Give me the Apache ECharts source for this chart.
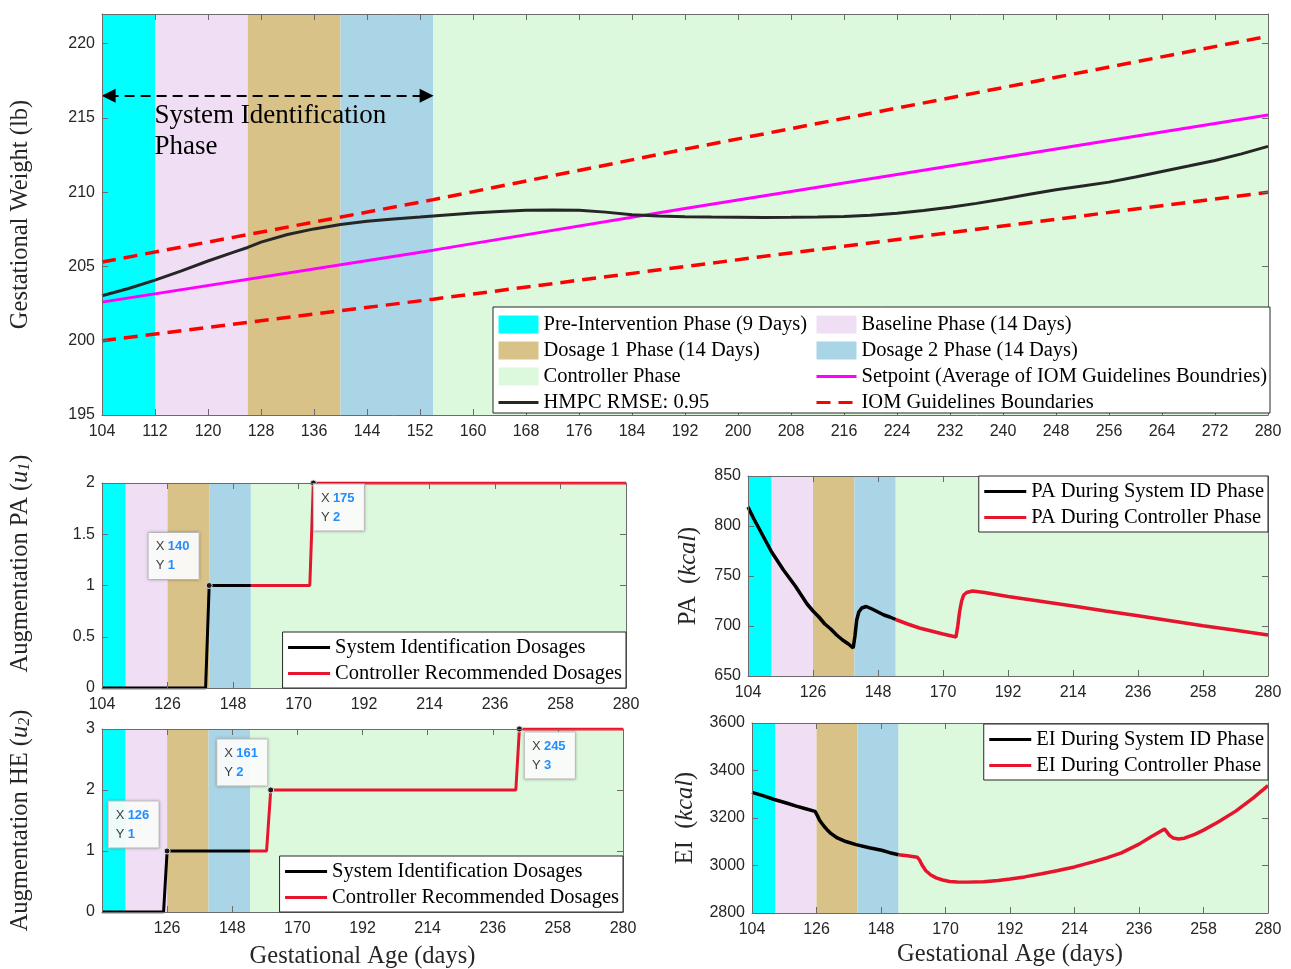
<!DOCTYPE html>
<html lang="en">
<head>
<meta charset="UTF-8" />
<title>Gestational weight control</title>
<script src="https://cdn.jsdelivr.net/npm/echarts@6/dist/echarts.min.js"></script>
<style>
  html, body { margin: 0; padding: 0; background: #fff; }
  #chart { width: 1291px; height: 969px; }
</style>
</head>
<body>
<div id="chart"></div>
<script>
// phases (days)
const phaseNames = [
  "Pre-Intervention Phase (9 Days)",
  "Baseline Phase (14 Days)",
  "Dosage 1 Phase (14 Days)",
  "Dosage 2 Phase (14 Days)",
  "Controller Phase"
];
const phaseStart = [104, 112, 126, 140, 154];
const phaseEnd = [112, 126, 140, 154, 280];
const phaseColors = ["#00ffff", "#f0dff4", "#d9c288", "#a9d5e6", "#ddf9dd"];

// gestational weight (lb)
const hmpcWeight = [
  [104, 203.03], [108, 203.52], [112, 204.08], [116, 204.7], [120, 205.37], [124, 205.98],
  [126, 206.28], [128, 206.64], [132, 207.15], [136, 207.53], [140, 207.82], [144, 208.04],
  [148, 208.2], [152, 208.33], [156, 208.47], [160, 208.6], [164, 208.71], [168, 208.78],
  [172, 208.8], [176, 208.78], [180, 208.66], [184, 208.49], [188, 208.4], [192, 208.35],
  [196, 208.33], [200, 208.32], [204, 208.3], [208, 208.31], [212, 208.33], [216, 208.36],
  [220, 208.45], [224, 208.58], [228, 208.77], [232, 208.99], [236, 209.25], [240, 209.55],
  [244, 209.86], [248, 210.16], [252, 210.42], [256, 210.68], [260, 211.02], [264, 211.4],
  [268, 211.76], [272, 212.14], [276, 212.58], [280, 213.09]
];
const setpoint = [[104, 202.6], [154, 206.1], [192, 208.9], [280, 215.2]];
const iomUpper = [[104, 205.3], [154, 209.5], [192, 212.9], [280, 220.5]];
const iomLower = [[104, 200.0], [154, 202.8], [192, 205.0], [280, 210.0]];
const sysIdSpan = [105, 153];
const sysIdArrowY = 216.5;

// augmentation dosages
const paDoseId = [[104, 0], [138.8, 0], [140, 1], [154, 1]];
const paDoseCtrl = [[154, 1], [173.8, 1], [175, 2], [280, 2]];
const heDoseId = [[104, 0], [124.8, 0], [126, 1], [154, 1]];
const heDoseCtrl = [[154, 1], [159.6, 1], [161, 2], [243.8, 2], [245, 3], [280, 3]];
const paTips = [[140, 1], [175, 2]];
const heTips = [[126, 1], [161, 2], [245, 3]];

// PA and EI (kcal)
const paKcalId = [
  [104, 819], [106, 807], [108, 796], [110, 785], [112, 774], [114, 765], [116, 756],
  [118, 748], [120, 740], [122, 731], [124, 722], [126, 715], [128, 709], [130, 702],
  [132, 697], [134, 691], [136, 686], [138, 682], [139.6, 678], [140.2, 690], [140.8, 706],
  [141.5, 714], [142.5, 718], [144, 719.5], [146, 717], [148, 714], [150, 711], [152, 709],
  [154, 706.5]
];
const paKcalCtrl = [
  [154, 706.5], [158, 702], [162, 698], [166, 695], [170, 692], [174.4, 689], [175, 700],
  [175.6, 714], [176.3, 725], [177, 731], [178, 733.5], [180, 735], [184, 733.5],
  [192, 729.5], [203, 724.8], [214, 720], [225, 715], [236, 710.3], [247, 705.3],
  [258, 700.3], [269, 695.7], [280, 691]
];
const eiId = [
  [104, 3308], [108, 3293], [111.6, 3278], [116, 3262], [119.1, 3250], [122, 3240],
  [125.5, 3228], [126.3, 3210], [127, 3192], [127.8, 3178], [128.7, 3163], [129.6, 3151],
  [131, 3134], [133.1, 3116], [136, 3101], [139.5, 3088], [144, 3075], [148.2, 3064],
  [151, 3054], [154, 3045]
];
const eiCtrl = [
  [154, 3045], [157, 3041], [160.4, 3035], [161.2, 3022], [162, 3002], [163.3, 2978],
  [165, 2960], [166.8, 2948], [169, 2939], [171.4, 2933], [174, 2931], [177.3, 2930],
  [183, 2932], [188, 2937], [192, 2943], [197, 2952], [202.8, 2965], [208, 2978],
  [214, 2994], [220, 3014], [225, 3032], [230, 3053], [236, 3090], [240, 3120],
  [244.7, 3154], [246.4, 3127], [247.6, 3116], [249.5, 3112], [251.5, 3115], [255, 3131],
  [258, 3149], [263, 3183], [269, 3229], [275, 3285], [280, 3336]
];

const SERIF = "Liberation Serif";
const SANS = "Liberation Sans";
const INK = "#262626";
const BOX = "#6b6b6b";
const RED = "#e6142d";
const TITLE_SIZE = 24.5;
const LEGEND_SIZE = 20.5;

const chart = echarts.init(document.getElementById("chart"));

// value axis + its mirror (MATLAB box with ticks on all sides)
function axisPair(kind, gi, min, max, interval, extra) {
  const base = {
    type: "value", gridIndex: gi, min: min, max: max, interval: interval, z: 5,
    axisLine: { show: true, onZero: false, lineStyle: { color: BOX, width: 1 } },
    axisTick: { show: true, inside: true, length: 6, lineStyle: { color: BOX, width: 1 } },
    splitLine: { show: false }
  };
  const main = Object.assign({}, base, {
    position: kind === "x" ? "bottom" : "left",
    axisLabel: Object.assign(
      { color: INK, fontFamily: SANS, fontSize: 16, margin: kind === "x" ? 9 : 7,
        formatter: v => String(v) },
      (extra && extra.axisLabel) || {}
    ),
    nameTextStyle: { color: INK, fontFamily: SERIF, fontSize: TITLE_SIZE },
    nameLocation: "middle"
  });
  if (extra) {
    for (const k in extra) if (k !== "axisLabel") main[k] = extra[k];
  }
  const mirror = Object.assign({}, base, {
    position: kind === "x" ? "top" : "right",
    axisLabel: { show: false }
  });
  return [main, mirror];
}

const nameRich = {
  n: { fontFamily: SERIF, fontSize: TITLE_SIZE, color: INK },
  i: { fontFamily: SERIF, fontSize: TITLE_SIZE, fontStyle: "italic", color: INK },
  s: { fontFamily: SERIF, fontSize: 16, fontStyle: "italic", color: INK, verticalAlign: "bottom", lineHeight: 12 }
};

const xAxes = [].concat(
  axisPair("x", 0, 104, 280, 8),
  axisPair("x", 1, 104, 280, 22),
  axisPair("x", 2, 104, 280, 22, {
    axisLabel: { showMinLabel: false },
    name: "Gestational Age (days)", nameGap: 32
  }),
  axisPair("x", 3, 104, 280, 22),
  axisPair("x", 4, 104, 280, 22, { name: "Gestational Age (days)", nameGap: 29 })
);

const yAxes = [].concat(
  axisPair("y", 0, 195, 222, 5, {
    axisLabel: { showMaxLabel: false },
    name: "Gestational Weight (lb)", nameGap: 69
  }),
  axisPair("y", 1, 0, 2, 0.5, {
    name: "{n|Augmentation PA (}{i|u}{s|1}{n|)}", nameGap: 69,
    nameTextStyle: { rich: nameRich, padding: [0, 0, 0, 44] }
  }),
  axisPair("y", 2, 0, 3, 1, {
    name: "{n|Augmentation HE (}{i|u}{s|2}{n|)}", nameGap: 69,
    nameTextStyle: { rich: nameRich }
  }),
  axisPair("y", 3, 650, 850, 50, {
    name: "{n|PA  (}{i|kcal}{n|)}", nameGap: 47,
    nameTextStyle: { rich: nameRich }
  }),
  axisPair("y", 4, 2800, 3600, 200, {
    name: "{n|EI  (}{i|kcal}{n|)}", nameGap: 54,
    nameTextStyle: { rich: nameRich }
  })
);

function onGrid(gi, s) {
  return Object.assign({ xAxisIndex: 2 * gi, yAxisIndex: 2 * gi }, s);
}

function line(gi, name, data, color, width, dash) {
  return onGrid(gi, {
    name: name, type: "line", data: data, symbol: "none", z: 3,
    itemStyle: { color: color },
    lineStyle: { color: color, width: width, type: dash || "solid" }
  });
}

// phase bands for the lower panels (one series carrying all five areas)
function bands(gi) {
  return onGrid(gi, {
    type: "line", data: [], z: 1, silent: true,
    markArea: {
      silent: true,
      data: phaseStart.map((s, k) => [
        { xAxis: s, itemStyle: { color: phaseColors[k], opacity: 1 } },
        { xAxis: phaseEnd[k] }
      ])
    }
  });
}

// data tips; box is 50px wide, placed left (upper-left) or right (lower-right) of the point
function tips(gi, pts, places) {
  return onGrid(gi, {
    type: "line", data: [], z: 6, silent: true,
    markPoint: {
      symbol: "circle", symbolSize: 6,
      itemStyle: { color: "#1a1a1a", borderColor: "#e0e0e0", borderWidth: 1 },
      data: pts.map((p, k) => ({
        coord: p,
        label: {
          show: true,
          formatter: "{l|X} {v|" + p[0] + "}\n{l|Y} {v|" + p[1] + "}",
          position: places[k].pos, align: "left", verticalAlign: places[k].va,
          width: 36,
          backgroundColor: "rgba(255,255,255,0.93)", borderColor: "#c8c8c8", borderWidth: 1,
          padding: [4, 7], shadowBlur: 3, shadowColor: "rgba(0,0,0,0.25)",
          rich: {
            l: { color: "#404040", fontFamily: SANS, fontSize: 13, lineHeight: 19 },
            v: { color: "#1f8fff", fontFamily: SANS, fontSize: 13, fontWeight: "bold", lineHeight: 19 }
          }
        }
      }))
    }
  });
}

const series = [];

// top panel: phase bands as named series so they show in the legend
phaseNames.forEach((nm, k) => {
  series.push(onGrid(0, {
    name: nm, type: "line", data: [], z: 1, silent: true,
    itemStyle: { color: phaseColors[k] },
    lineStyle: { color: phaseColors[k] },
    markArea: {
      silent: true,
      itemStyle: { color: phaseColors[k], opacity: 1 },
      data: [[{ xAxis: phaseStart[k] }, { xAxis: phaseEnd[k] }]]
    }
  }));
});
series.push(line(0, "Setpoint (Average of IOM Guidelines Boundries)", setpoint, "#ff00ff", 3));
series.push(line(0, "IOM Guidelines Boundaries", iomUpper, "#ff0000", 3.5, [14, 8]));
series.push(line(0, "IOM Guidelines Boundaries", iomLower, "#ff0000", 3.5, [14, 8]));
series.push(line(0, "HMPC RMSE: 0.95", hmpcWeight, INK, 3));
// system identification arrow + note
series.push(onGrid(0, {
  type: "line", data: [], z: 4, silent: true,
  markLine: {
    silent: true, symbol: ["triangle", "triangle"], symbolSize: 14,
    lineStyle: { color: "#000", width: 2, type: [10, 6] },
    label: { show: false },
    data: [[{ coord: [sysIdSpan[0], sysIdArrowY] }, { coord: [sysIdSpan[1], sysIdArrowY] }]]
  },
  markPoint: {
    symbol: "rect", symbolSize: 1, itemStyle: { color: "rgba(0,0,0,0)" },
    label: {
      show: true, position: [0, 0], align: "left", verticalAlign: "top",
      formatter: "System Identification\nPhase",
      fontFamily: SERIF, fontSize: 27, lineHeight: 31, color: "#000"
    },
    data: [{ coord: [112, 216.14] }]
  }
}));

// augmentation PA
series.push(bands(1));
series.push(line(1, "System Identification Dosages", paDoseId, "#000", 3));
series.push(line(1, "Controller Recommended Dosages", paDoseCtrl, RED, 3));
series.push(tips(1, paTips, [
  { pos: [-57, -3], va: "bottom" },
  { pos: [4, 5], va: "top" }
]));

// augmentation HE
series.push(bands(2));
series.push(line(2, "System Identification Dosages", heDoseId, "#000", 3));
series.push(line(2, "Controller Recommended Dosages", heDoseCtrl, RED, 3));
series.push(tips(2, heTips, [
  { pos: [-55, 0], va: "bottom" },
  { pos: [-50, -1], va: "bottom" },
  { pos: [9, 7], va: "top" }
]));

// PA kcal
series.push(bands(3));
series.push(line(3, "PA During System ID Phase", paKcalId, "#000", 3.5));
series.push(line(3, "PA During Controller Phase", paKcalCtrl, RED, 3.5));

// EI kcal
series.push(bands(4));
series.push(line(4, "EI During System ID Phase", eiId, "#000", 3.5));
series.push(line(4, "EI During Controller Phase", eiCtrl, RED, 3.5));

const legendText = { fontFamily: SERIF, fontSize: LEGEND_SIZE, color: "#000" };
// line entries: hide the centre symbol, keep only the stroke
const lineItem = name => ({ name: name, itemStyle: { opacity: 0 } });

function smallLegend(names, pos) {
  return Object.assign({
    data: names.map(lineItem), orient: "vertical", z: 20,
    backgroundColor: "#fff", borderColor: INK, borderWidth: 1, borderRadius: 0,
    padding: [5, 4, 4, 4], itemGap: 5, itemWidth: 42, itemHeight: 14,
    lineStyle: { width: 3 }, textStyle: legendText, selectedMode: false
  }, pos);
}

const option = {
  animation: false,
  backgroundColor: "#fff",
  grid: [
    { left: 102, top: 14, width: 1166, height: 401 },
    { left: 102, top: 483, width: 524, height: 205 },
    { left: 102, top: 729, width: 521, height: 183 },
    { left: 748, top: 476, width: 520, height: 200 },
    { left: 752, top: 723, width: 516, height: 190 }
  ].map(g => Object.assign({ outerBoundsMode: "none", containLabel: false }, g)),
  xAxis: xAxes,
  yAxis: yAxes,
  graphic: [{
    type: "rect", z: 10, silent: true,
    shape: { x: 493, y: 307, width: 777, height: 106 },
    style: { fill: "#fff", stroke: INK, lineWidth: 1 }
  }],
  legend: [
    {
      data: [
        { name: phaseNames[0], icon: "rect" },
        { name: phaseNames[2], icon: "rect" },
        { name: phaseNames[4], icon: "rect" },
        lineItem("HMPC RMSE: 0.95")
      ],
      orient: "vertical", left: 497, top: 314, padding: 0, z: 20,
      itemGap: 5, itemWidth: 40, itemHeight: 18, lineStyle: { width: 3 },
      textStyle: legendText, selectedMode: false
    },
    {
      data: [
        { name: phaseNames[1], icon: "rect" },
        { name: phaseNames[3], icon: "rect" },
        lineItem("Setpoint (Average of IOM Guidelines Boundries)"),
        lineItem("IOM Guidelines Boundaries")
      ],
      orient: "vertical", left: 815, top: 314, padding: 0, z: 20,
      itemGap: 5, itemWidth: 40, itemHeight: 18, lineStyle: { width: 3 },
      textStyle: legendText, selectedMode: false
    },
    smallLegend(["System Identification Dosages", "Controller Recommended Dosages"], { right: 665, bottom: 281 }),
    smallLegend(["System Identification Dosages", "Controller Recommended Dosages"], { right: 668, bottom: 57 }),
    smallLegend(["PA During System ID Phase", "PA During Controller Phase"], { right: 23, top: 476 }),
    smallLegend(["EI During System ID Phase", "EI During Controller Phase"], { right: 23, top: 724 })
  ],
  series: series
};

chart.setOption(option);
</script>
</body>
</html>
